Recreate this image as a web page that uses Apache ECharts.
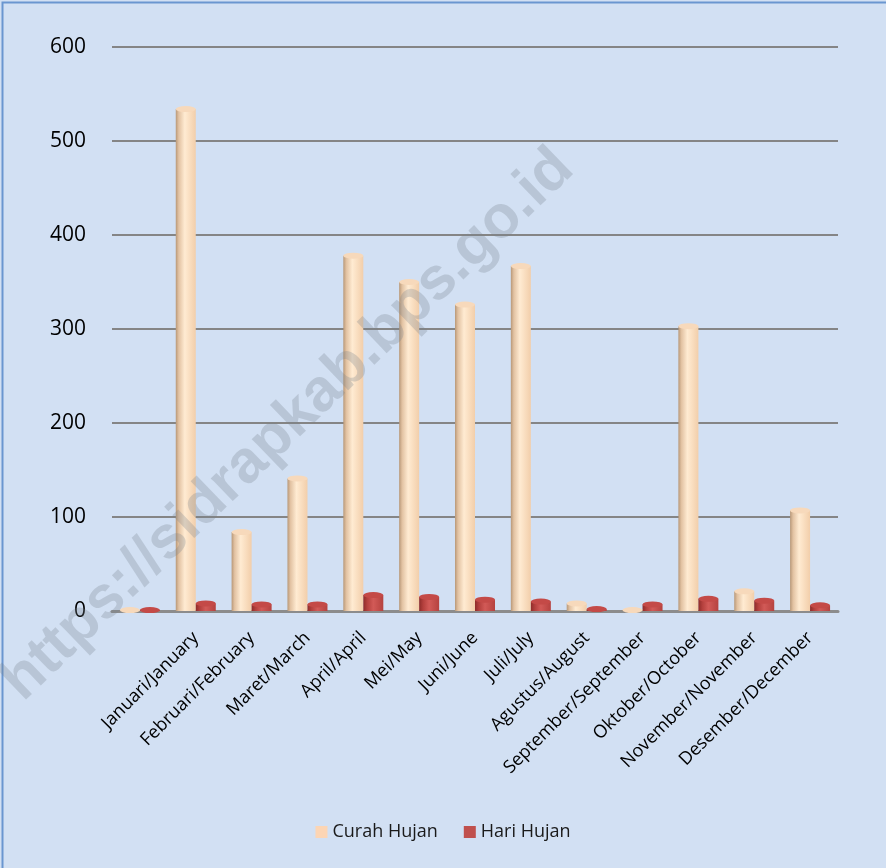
<!DOCTYPE html>
<html>
<head>
<meta charset="utf-8">
<script src="https://cdn.jsdelivr.net/npm/echarts@6/dist/echarts.min.js"></script>
<style>
html,body{margin:0;padding:0;background:#D2E0F3;}
#c{width:886px;height:868px;}
</style>
</head>
<body>
<div id="c"></div>
<script>
const categories = ['', 'Januari/January', 'Februari/February', 'Maret/March', 'April/April', 'Mei/May', 'Juni/June', 'Juli/July', 'Agustus/August', 'September/September', 'Oktober/October', 'November/November', 'Desember/December'];
const curahHujan = [1, 534, 84, 141, 378, 350, 326, 367, 8, 1, 303, 21, 107];
const hariHujan = [1, 8, 7, 7, 17, 15, 12, 10, 2, 7, 13, 11, 6];
const yTicks = [0, 100, 200, 300, 400, 500, 600];

const chart = echarts.init(document.getElementById('c'), null, {renderer: 'canvas'});
const beigeGrad = new echarts.graphic.LinearGradient(0, 0, 1, 0, [
  {offset: 0, color: '#B89878'}, {offset: 0.15, color: '#E2C2A2'},
  {offset: 0.45, color: '#FFEBD2'}, {offset: 1, color: '#F2CEAA'}]);
const redGrad = new echarts.graphic.LinearGradient(0, 0, 1, 0, [
  {offset: 0, color: '#8E2C2A'}, {offset: 0.2, color: '#B4403D'},
  {offset: 0.5, color: '#D25A57'}, {offset: 1, color: '#B5423F'}]);

const option = {
  backgroundColor: '#D2E0F3',
  animation: false,
  textStyle: {fontFamily: 'Open Sans, Liberation Sans, sans-serif'},
  graphic: [
    {type: 'rect', left: 0, top: 0, shape: {width: 885, height: 867}, style: {fill: 'none', stroke: '#6A96D0', lineWidth: 2}, silent: true},
    {type: 'text', x: 288, y: 425, rotation: Math.PI / 4 - 0.02, z: 100, silent: true,
     style: {text: 'https://sidrapkab.bps.go.id', font: 'bold 60px Liberation Sans, Arial, sans-serif', fill: 'rgba(120,128,140,0.28)', align: 'center', verticalAlign: 'middle'}}
  ],
  legend: {
    bottom: 22, left: 'center',
    itemWidth: 12, itemHeight: 12, itemGap: 26,
    textStyle: {fontSize: 18, color: '#1a1a1a'},
    data: [
      {name: 'Curah Hujan', icon: 'rect', itemStyle: {color: '#FCD5B4'}},
      {name: 'Hari Hujan', icon: 'rect', itemStyle: {color: '#C0504D'}}
    ]
  },
  grid: {left: 112, right: 48, top: 47, bottom: 257},
  xAxis: {
    type: 'category', data: categories,
    axisLine: {show: true, lineStyle: {color: '#8C8C8C', width: 3}},
    axisTick: {show: false},
    axisLabel: {rotate: 45, margin: 24, fontSize: 18, color: '#000', interval: 0}
  },
  yAxis: {
    type: 'value', min: 0, max: 600, interval: 100,
    axisLine: {show: false}, axisTick: {show: false},
    axisLabel: {fontSize: 21, color: '#000', margin: 26, formatter: v => yTicks.includes(v) ? String(v) : ''},
    splitLine: {lineStyle: {color: '#858585', width: 2}}
  },
  series: [
    {name: 'Curah Hujan', type: 'bar', data: curahHujan, barWidth: 20, barGap: '0%',
     itemStyle: {color: beigeGrad}},
    {name: 'Hari Hujan', type: 'bar', data: hariHujan, barWidth: 20,
     itemStyle: {color: redGrad}},
    {name: 'Curah Hujan', type: 'pictorialBar', data: curahHujan, symbol: 'circle', symbolSize: [20, 6],
     symbolPosition: 'end', symbolOffset: ['-50%', '-50%'], z: 3, itemStyle: {color: '#F7D9BB'}, legendHoverLink: false, tooltip: {show: false}},
    {name: 'Hari Hujan', type: 'pictorialBar', data: hariHujan, symbol: 'circle', symbolSize: [20, 6],
     symbolPosition: 'end', symbolOffset: ['50%', '-50%'], z: 3, itemStyle: {color: '#C44A47'}, legendHoverLink: false, tooltip: {show: false}}
  ]
};
chart.setOption(option);
</script>
</body>
</html>
